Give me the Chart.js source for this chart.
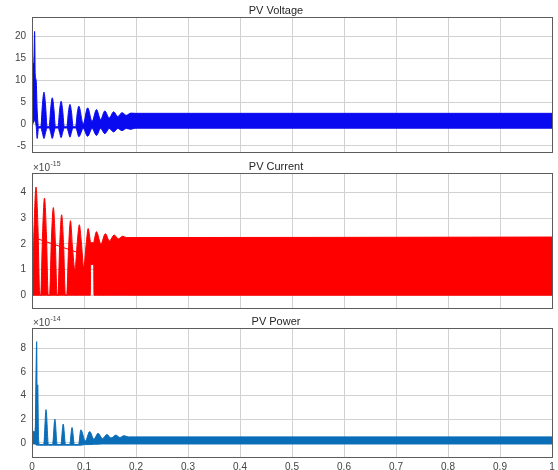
<!DOCTYPE html>
<html>
<head>
<meta charset="utf-8">
<script src="https://cdn.jsdelivr.net/npm/chart.js@4.4.1/dist/chart.umd.min.js"></script>
<style>
html,body{margin:0;padding:0;background:#fff;width:558px;height:470px;overflow:hidden}
.panel{position:absolute;left:0;width:558px}
canvas{display:block}
</style>
</head>
<body>
<div class="panel" style="top:0px;height:155px"><canvas id="c1" width="558" height="155"></canvas></div>
<div class="panel" style="top:150px;height:161px"><canvas id="c2" width="558" height="161"></canvas></div>
<div class="panel" style="top:310px;height:160px"><canvas id="c3" width="558" height="160"></canvas></div>
<script>
// ---------- tick labels ----------
const timeTicks = [0, 0.1, 0.2, 0.3, 0.4, 0.5, 0.6, 0.7, 0.8, 0.9, 1];
const timeTickLabels = ['0', '0.1', '0.2', '0.3', '0.4', '0.5', '0.6', '0.7', '0.8', '0.9', '1'];
const voltageTicks = [-5, 0, 5, 10, 15, 20];
const currentTicks = [0, 1, 2, 3, 4];
const powerTicks = [0, 2, 4, 6, 8];
const currentExponent = '-15';
const powerExponent = '-14';
const panelTitles = ['PV Voltage', 'PV Current', 'PV Power'];

// ---------- PV Voltage envelope (upper / lower) ----------
const voltTime  = [0, 0.0008, 0.0035, 0.005, 0.0062, 0.008, 0.010, 0.0125,
  0.017, 0.020, 0.023, 0.026, 0.029,
  0.033, 0.036, 0.039, 0.042, 0.045,
  0.050, 0.053, 0.056, 0.059, 0.062,
  0.067, 0.070, 0.073, 0.076, 0.079,
  0.084, 0.087, 0.090,
  0.0985, 0.107, 0.1155, 0.124, 0.132, 0.140, 0.1485, 0.157, 0.165, 0.173, 0.1815, 0.190, 0.198, 1.0];
const voltUpper = [2, 13.5, 14, 21.2, 11.5, 10, 3, -0.6,
  -0.6, 4.4, 7.3, 4.4, -0.6,
  -0.6, 3.6, 6.0, 3.6, -0.6,
  -0.6, 3.1, 5.2, 3.1, -0.6,
  -0.6, 2.7, 4.5, 2.7, -0.6,
  -0.6, 2.5, 4.1,
  0.0, 3.7, 0.6, 3.3, 1.0, 3.0, 1.4, 2.8, 1.7, 2.6, 2.0, 2.5, 2.45, 2.45];
const voltLower = [0, 0, 0.5, 1, 0.5, -0.5, -3.3, -0.9,
  -0.9, -2.0, -3.3, -2.0, -0.9,
  -0.9, -2.0, -3.3, -2.0, -0.9,
  -0.9, -1.9, -3.1, -1.9, -0.9,
  -0.9, -1.8, -3.0, -1.8, -0.9,
  -0.9, -1.75, -2.9,
  -1.0, -2.8, -1.0, -2.6, -1.0, -2.2, -1.0, -1.8, -1.0, -1.5, -1.0, -1.2, -0.95, -0.95];

// ---------- PV Current envelope (x 1e-15) ----------
const currTime  = [0, 0.0005, 0.0039, 0.0077, 0.0115, 0.0149,
  0.0168, 0.0202, 0.024, 0.0278, 0.0312,
  0.0338, 0.0372, 0.041, 0.0448, 0.0482,
  0.0498, 0.0532, 0.057, 0.0608, 0.0642,
  0.0668, 0.0702, 0.074, 0.0778, 0.0825,
  0.0872, 0.091, 0.0948, 0.0995,
  0.1042, 0.108, 0.1122, 0.1128, 0.1186, 0.1192,
  0.124, 0.1325, 0.141, 0.149, 0.158, 0.166, 0.174, 0.182, 1.0];
const currUpper = [0, 0, 2.62, 4.22, 2.62, 0,
  0, 2.35, 3.79, 2.35, 0,
  0, 2.12, 3.42, 2.12, 0,
  0, 1.95, 3.14, 1.95, 0,
  0, 1.80, 2.91, 1.9, 1.0,
  2.1, 2.75, 2.1, 1.1,
  2.0, 2.6, 2.1, 2.05, 2.05, 2.1,
  2.48, 2.0, 2.40, 2.12, 2.35, 2.2, 2.30, 2.25, 2.27];
const currLower = [0, 0, 0, 0, 0, 0,
  0, 0, 0, 0, 0,
  0, 0, 0, 0, 0,
  0, 0, 0, 0, 0,
  0, 0, 0, 0, 0,
  0, 0, 0, 0,
  0, 0, 0, 1.2, 1.2, 0,
  0, 0, 0, 0, 0, 0, 0, 0, 0];
const currTrendTime = [0.008, 0.095];
const currTrendValue = [2.22, 1.62];

// ---------- PV Power envelope (x 1e-14) ----------
const powTime  = [0, 0.001, 0.006, 0.009, 0.010, 0.011, 0.0125, 0.0145, 0.0225, 0.027, 0.0315, 0.0395, 0.044, 0.0485, 0.0555, 0.060, 0.0645, 0.0725, 0.077, 0.0815, 0.0895, 0.094, 0.1025, 0.111, 0.119, 0.127, 0.1355, 0.144, 0.152, 0.161, 0.169, 0.177, 0.185, 1.0];
const powUpper = [0, 1.0, 0.9, 8.55, 2.5, 4.9, 0.5, -0.15, -0.15, 2.8, -0.15, -0.15, 2.0, -0.15, -0.15, 1.58, -0.15, -0.15, 1.29, -0.15, -0.15, 1.1, 0.15, 0.95, 0.3, 0.8, 0.35, 0.7, 0.4, 0.65, 0.45, 0.6, 0.5, 0.5];
const powLower = [0, -0.1, -0.1, -0.2, -0.2, -0.2, -0.2, -0.2, -0.2, -0.2, -0.2, -0.2, -0.2, -0.2, -0.2, -0.2, -0.2, -0.2, -0.2, -0.2, -0.2, -0.2, -0.15, -0.15, -0.12, -0.12, -0.1, -0.1, -0.1, -0.1, -0.1, -0.1, -0.1, -0.1];

// ---------- helpers ----------
const FONT = "'Liberation Sans', Arial, Helvetica, sans-serif";
const GRID = '#d2d2d2';
const TICKC = '#444444';
function toPoints(ts, vs) { return ts.map((t, i) => ({ x: t, y: vs[i] })); }

const boxPlugin = {
  id: 'axbox',
  afterDatasetsDraw(chart) {
    const { ctx, chartArea: a } = chart;
    const L = Math.round(a.left), R = Math.round(a.right), T = Math.round(a.top), B = Math.round(a.bottom);
    ctx.save();
    ctx.strokeStyle = '#5c5c5c';
    ctx.lineWidth = 1;
    ctx.strokeRect(L + 0.5, T + 0.5, R - L, B - T);
    ctx.restore();
  }
};

function exponentPlugin(exp, baseY) {
  return {
    id: 'exponent',
    afterDraw(chart) {
      if (!exp) return;
      const ctx = chart.ctx;
      ctx.save();
      ctx.fillStyle = TICKC;
      ctx.textBaseline = 'middle';
      ctx.textAlign = 'left';
      ctx.font = '10px ' + FONT;
      ctx.fillText('\u00d710', 33, baseY);
      const w = ctx.measureText('\u00d710').width;
      ctx.font = '7px ' + FONT;
      ctx.fillText(exp, 33 + w + 0.5, baseY - 3.5);
      ctx.restore();
    }
  };
}

function makePanel(id, o) {
  new Chart(document.getElementById(id), {
    type: 'line',
    data: { datasets: o.datasets },
    options: {
      responsive: false,
      animation: false,
      devicePixelRatio: 1,
      events: [],
      layout: { padding: { top: 0, right: 6, bottom: o.padBottom, left: 0 } },
      elements: { point: { radius: 0 }, line: { borderWidth: 1, cubicInterpolationMode: 'monotone' } },
      plugins: {
        legend: { display: false },
        tooltip: { enabled: false },
        title: {
          display: true, text: o.title, color: '#262626',
          font: { family: FONT, size: 11, weight: 'normal', lineHeight: '13px' },
          padding: { top: o.titlePad, bottom: 0 }
        }
      },
      scales: {
        x: {
          type: 'linear', min: 0, max: 1,
          afterBuildTicks: s => { s.ticks = timeTicks.map(v => ({ value: v })); },
          afterFit: s => { s.height = o.showX ? 13 : 0; s.paddingLeft = 0; s.paddingRight = 0; },
          grid: { color: GRID, lineWidth: 1, drawTicks: false },
          border: { display: false },
          ticks: {
            display: o.showX, padding: 4, color: TICKC, autoSkip: false, maxRotation: 0,
            font: { family: FONT, size: 10 },
            callback: (v, i) => timeTickLabels[i]
          }
        },
        y: {
          type: 'linear', min: o.ymin, max: o.ymax,
          afterBuildTicks: s => { s.ticks = o.yTicks.map(v => ({ value: v })); },
          afterFit: s => { s.width = 32; s.paddingTop = 0; s.paddingBottom = 0; },
          grid: { color: GRID, lineWidth: 1, drawTicks: false },
          border: { display: false },
          ticks: {
            padding: 6, color: TICKC, autoSkip: false,
            font: { family: FONT, size: 10 },
            callback: (v, i) => String(o.yTicks[i])
          }
        }
      }
    },
    plugins: [boxPlugin, exponentPlugin(o.exp, o.expY)]
  });
}

const VBLUE = '#0a0af0', CRED = '#ff0000', PBLUE = '#0a6db8';

makePanel('c1', {
  title: panelTitles[0], titlePad: 4, padBottom: 3, showX: false,
  ymin: -6.4, ymax: 24.5, yTicks: voltageTicks, exp: null,
  datasets: [
    { data: toPoints(voltTime, voltUpper), borderColor: VBLUE, backgroundColor: VBLUE, fill: '+1' },
    { data: toPoints(voltTime, voltLower), borderColor: VBLUE, backgroundColor: VBLUE, fill: false }
  ]
});

makePanel('c2', {
  title: panelTitles[1], titlePad: 10, padBottom: 3, showX: false,
  ymin: -0.5, ymax: 4.77, yTicks: currentTicks, exp: currentExponent, expY: 18,
  datasets: [
    { data: toPoints(currTime, currUpper), borderColor: CRED, backgroundColor: CRED, fill: '+1' },
    { data: toPoints(currTime, currLower), borderColor: CRED, backgroundColor: CRED, fill: false },
    { data: toPoints(currTrendTime, currTrendValue), borderColor: CRED, borderWidth: 1, fill: false, cubicInterpolationMode: 'default', tension: 0 }
  ]
});

makePanel('c3', {
  title: panelTitles[2], titlePad: 5, padBottom: 0, showX: true,
  ymin: -1.2, ymax: 9.7, yTicks: powerTicks, exp: powerExponent, expY: 13,
  datasets: [
    { data: toPoints(powTime, powUpper), borderColor: PBLUE, backgroundColor: PBLUE, fill: '+1' },
    { data: toPoints(powTime, powLower), borderColor: PBLUE, backgroundColor: PBLUE, fill: false }
  ]
});
</script>
</body>
</html>
